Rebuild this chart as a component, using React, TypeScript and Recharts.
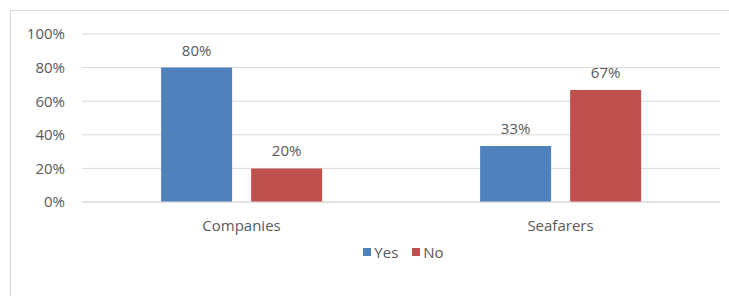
import React from "react";
import { BarChart, Bar, XAxis, YAxis, CartesianGrid, LabelList, Legend } from "recharts";

const categories = ["Companies", "Seafarers"];
const yesValues = [0.8, 0.333];
const noValues = [0.2, 0.667];
const yTicks = [0, 0.2, 0.4, 0.6, 0.8, 1];

const data = categories.map((c, i) => ({ name: c, Yes: yesValues[i], No: noValues[i] }));

const FONT = "'Open Sans', sans-serif";
const TEXT = "#595959";
const pct = (v: number) => `${Math.round(v * 100)}%`;

const LegendContent = () => (
  <div style={{ display: "flex", justifyContent: "center", alignItems: "center", fontFamily: FONT, fontSize: 15, color: TEXT, paddingLeft: 78, height: 20 }}>
    <span style={{ display: "inline-block", width: 8, height: 8, background: "#4f81bd", marginRight: 3 }} />
    <span style={{ marginRight: 14 }}>Yes</span>
    <span style={{ display: "inline-block", width: 8, height: 8, background: "#c0504d", marginRight: 3 }} />
    <span>No</span>
  </div>
);

export default function App() {
  return (
    <div style={{ position: "absolute", left: 0, top: 0, width: 729, height: 296, overflow: "hidden", background: "#fff" }}>
      <div style={{ position: "absolute", left: 10, top: 10, width: 760, height: 320, border: "1px solid #d9d9d9", boxSizing: "border-box" }} />
      <BarChart
        width={729}
        height={296}
        data={data}
        margin={{ top: 34, right: 9, left: 10, bottom: 44 }}
        barCategoryGap="24.8%"
        barGap={19}
      >
        <CartesianGrid vertical={false} stroke="#d9d9d9" />
        <XAxis
          dataKey="name"
          axisLine={{ stroke: "#d9d9d9" }}
          tickLine={false}
          height={30}
          tickMargin={12}
          tick={{ fill: TEXT, fontFamily: FONT, fontSize: 15 }}
        />
        <YAxis
          width={72}
          domain={[0, 1]}
          ticks={yTicks}
          tickFormatter={pct}
          axisLine={false}
          tickLine={false}
          tickMargin={11}
          tick={{ fill: TEXT, fontFamily: FONT, fontSize: 15 }}
        />
        <Legend verticalAlign="bottom" content={<LegendContent />} wrapperStyle={{ top: 242, left: 0, width: 729 }} />
        <Bar dataKey="Yes" fill="#4f81bd" isAnimationActive={false}>
          <LabelList dataKey="Yes" position="top" offset={12} formatter={pct} fill={TEXT} style={{ fontFamily: FONT, fontSize: 15 }} />
        </Bar>
        <Bar dataKey="No" fill="#c0504d" isAnimationActive={false}>
          <LabelList dataKey="No" position="top" offset={12} formatter={pct} fill={TEXT} style={{ fontFamily: FONT, fontSize: 15 }} />
        </Bar>
      </BarChart>
    </div>
  );
}
